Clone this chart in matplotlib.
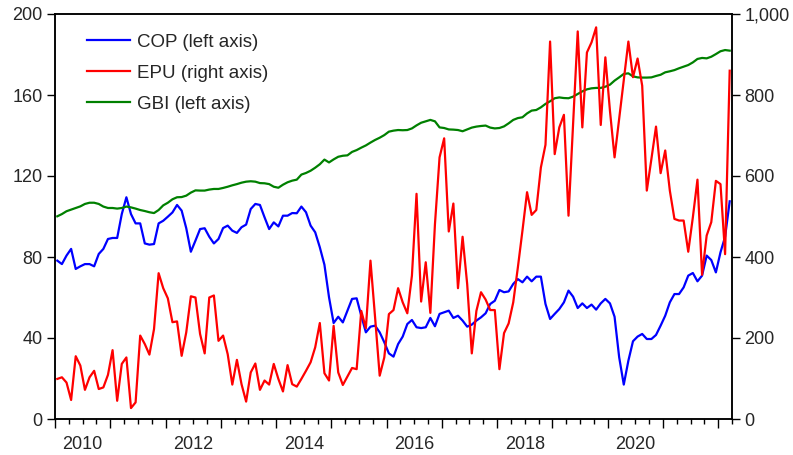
import numpy as np
import pandas as pd
import matplotlib
matplotlib.use("Agg")
import matplotlib.pyplot as plt
from matplotlib.ticker import FuncFormatter, MultipleLocator

plt.rcParams['font.family'] = ['Liberation Sans', 'DejaVu Sans']

months = pd.period_range('2010-01', '2022-03', freq='M')

cop = [78.2, 76.5, 80.7, 84.0, 74.1, 75.4, 76.5, 76.5, 75.4, 81.5,
       84.0, 88.9, 89.4, 89.4, 101.2, 109.5, 101.2, 96.6, 96.6, 86.7,
       86.1, 86.4, 96.6, 97.9, 99.9, 102.0, 105.7, 102.9, 94.2, 82.6,
       88.1, 93.8, 94.2, 90.0, 86.7, 88.9, 94.3, 95.5, 93.0, 91.9,
       94.7, 96.0, 103.7, 106.2, 105.7, 99.6, 93.8, 97.1, 95.1, 100.4,
       100.4, 101.7, 101.6, 104.9, 102.1, 95.5, 92.2, 84.8, 76.2, 60.1,
       47.4, 50.5, 47.7, 53.5, 59.3, 59.6, 51.0, 42.8, 45.6, 46.1,
       42.8, 37.9, 32.4, 30.8, 37.0, 40.7, 46.9, 48.9, 45.3, 44.9,
       45.3, 49.9, 45.8, 51.9, 52.7, 53.5, 49.9, 51.0, 48.6, 45.6,
       46.6, 48.6, 50.2, 52.2, 56.8, 58.4, 63.7, 62.6, 63.0, 66.7,
       69.1, 67.5, 70.3, 68.0, 70.3, 70.3, 56.8, 49.4, 51.9, 54.3,
       57.6, 63.4, 60.4, 54.8, 57.1, 54.8, 56.5, 54.0, 57.1, 59.3,
       57.1, 50.5, 30.5, 17.0, 28.8, 38.4, 40.7, 42.0, 39.5, 39.5,
       41.5, 46.1, 51.0, 57.6, 61.7, 61.7, 65.0, 70.8, 72.1, 68.0,
       70.8, 80.7, 78.5, 72.4, 82.3, 90.0, 107.5]

epu = [99, 103, 90, 47, 155, 132, 72, 103, 119, 74,
       78, 109, 170, 45, 136, 152, 27, 41, 206, 185,
       159, 222, 360, 323, 298, 239, 241, 156, 214, 303,
       300, 210, 162, 300, 305, 193, 206, 160, 85, 146,
       86, 43, 115, 137, 72, 95, 85, 136, 99, 68,
       133, 86, 80, 99, 119, 140, 177, 237, 113, 95,
       230, 115, 84, 105, 126, 123, 267, 224, 391, 251,
       107, 152, 259, 269, 323, 288, 261, 354, 556, 290,
       387, 262, 481, 646, 693, 463, 532, 323, 450, 333,
       162, 267, 313, 295, 269, 269, 123, 212, 236, 288,
       374, 465, 560, 504, 516, 621, 677, 932, 654, 720,
       751, 502, 728, 957, 720, 905, 930, 967, 726, 893,
       761, 646, 741, 835, 932, 844, 890, 823, 564, 642,
       722, 607, 663, 564, 494, 490, 490, 413, 498, 591,
       356, 453, 486, 588, 580, 407, 860]

gbi = [100.1, 101.2, 102.6, 103.4, 104.2, 105.0, 106.2, 106.8, 106.8, 106.2,
       104.9, 104.2, 104.2, 103.9, 104.2, 104.9, 104.5, 103.9, 103.2, 102.7,
       102.1, 101.7, 103.2, 105.5, 106.8, 108.5, 109.5, 109.6, 110.3, 111.8,
       112.9, 112.8, 112.8, 113.3, 113.6, 113.6, 114.1, 114.7, 115.4, 116.0,
       116.7, 117.2, 117.4, 117.2, 116.5, 116.4, 116.0, 114.7, 114.2, 115.7,
       116.9, 117.7, 118.2, 120.7, 121.5, 122.6, 124.1, 125.8, 128.1, 126.7,
       128.2, 129.5, 130.0, 130.2, 131.9, 132.8, 134.0, 135.1, 136.5, 137.8,
       138.9, 140.2, 141.9, 142.4, 142.7, 142.6, 142.7, 143.5, 145.0, 146.3,
       147.0, 147.7, 147.0, 144.0, 143.7, 143.0, 142.9, 142.7, 142.1, 143.0,
       143.9, 144.4, 144.7, 144.9, 143.9, 143.5, 143.7, 144.5, 146.0, 147.7,
       148.6, 149.0, 150.9, 152.3, 152.6, 153.9, 155.6, 156.9, 158.4, 158.8,
       158.5, 158.4, 159.2, 160.5, 161.8, 162.8, 163.3, 163.5, 163.5, 164.1,
       165.1, 167.1, 168.7, 170.4, 170.7, 169.2, 168.7, 168.6, 168.6, 168.7,
       169.4, 170.0, 171.2, 171.7, 172.3, 173.2, 174.0, 174.8, 176.1, 177.8,
       178.3, 178.1, 178.9, 180.2, 181.6, 182.2, 181.9]

year_labels = ['2010', '2012', '2014', '2016', '2018', '2020']
left_ticks = [0, 40, 80, 120, 160, 200]
right_ticks = [0, 200, 400, 600, 800, 1000]

# month positions (mid-month), origin at Jan 2010
start = months[0]
x = np.array([(p - start).n for p in months]) + 0.5
n_months = len(months)

fig = plt.figure(figsize=(7.93, 4.55), dpi=100)
ax = fig.add_axes([55 / 793, 1 - 419 / 455, (732 - 55) / 793, (419 - 14) / 455])
ax2 = ax.twinx()

text_color = '#262626'
lw = 1.6
l1, = ax.plot(x, cop, color='#0000ff', lw=lw, label='COP (left axis)')
l3, = ax.plot(x, gbi, color='#008000', lw=lw, label='GBI (left axis)')
l2, = ax2.plot(x, epu, color='#ff0000', lw=lw, label='EPU (right axis)')

ax.set_xlim(0, n_months)
ax.set_ylim(0, 200)
ax2.set_ylim(0, 1000)
ax.set_yticks(left_ticks)
ax2.set_yticks(right_ticks)
ax2.yaxis.set_major_formatter(FuncFormatter(lambda v, p: f"{int(v):,}"))

# x ticks: major at each year start, minor quarterly
ax.xaxis.set_major_locator(MultipleLocator(12))
ax.xaxis.set_minor_locator(MultipleLocator(3))
ax.xaxis.set_major_formatter(FuncFormatter(lambda v, p: ''))
ax.tick_params(axis='x', which='major', direction='out', length=6.5, width=1.0, color='black')
ax.tick_params(axis='x', which='minor', direction='out', length=3.6, width=1.0, color='black')

# year labels centred on the year span
sec = ax.secondary_xaxis('bottom')
year_pos = [(int(y) - 2010) * 12 + 6 for y in year_labels]
sec.set_xticks(year_pos, labels=year_labels)
sec.tick_params(axis='x', length=0, pad=12, labelsize=13, labelcolor=text_color)
sec.spines['bottom'].set_visible(False)

ax.tick_params(axis='y', direction='out', length=5.8, width=1.0, pad=3,
               labelsize=13, labelcolor=text_color)
ax2.tick_params(axis='y', direction='out', length=5.8, width=1.0, pad=3,
                labelsize=13, labelcolor=text_color)

for a in (ax, ax2):
    for s in a.spines.values():
        s.set_linewidth(1.1)
        s.set_color('black')

leg = ax2.legend(handles=[l1, l2, l3], loc='upper left',
                 bbox_to_anchor=(0.047, 0.951), borderaxespad=0, borderpad=0,
                 frameon=False, fontsize=13.5, handlelength=2.3,
                 handletextpad=0.37, labelspacing=0.73)
for t in leg.get_texts():
    t.set_color(text_color)

fig.savefig('out.png', dpi=100)
